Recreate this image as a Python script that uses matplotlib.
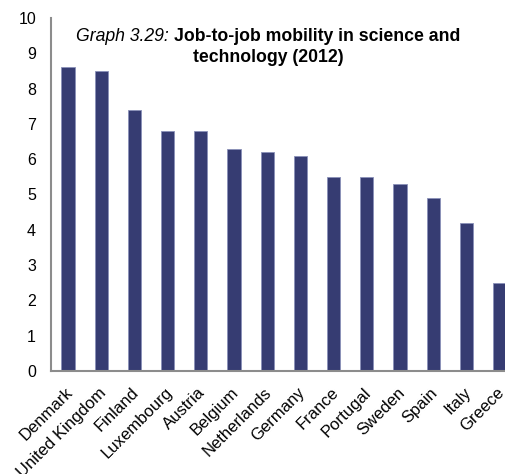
import matplotlib
matplotlib.use("Agg")
import matplotlib.pyplot as plt
import matplotlib.transforms as mtransforms

countries = ["Denmark", "United Kingdom", "Finland", "Luxembourg", "Austria", "Belgium",
             "Netherlands", "Germany", "France", "Portugal", "Sweden", "Spain", "Italy", "Greece"]
values = [8.6, 8.5, 7.4, 6.8, 6.8, 6.3, 6.2, 6.1, 5.5, 5.5, 5.3, 4.9, 4.2, 2.5]
yticks = [0, 1, 2, 3, 4, 5, 6, 7, 8, 9, 10]
title_prefix = "Graph 3.29:"
title_line1 = "Job-to-job mobility in science and"
title_line2 = "technology (2012)"

plt.rcParams['font.family'] = ['Liberation Sans', 'DejaVu Sans']

W, H = 505, 474
fig = plt.figure(figsize=(W / 100, H / 100), dpi=100)
ax = fig.add_axes([51.4 / W, 1 - 371 / H, 464.8 / W, (371 - 18) / H])

x = list(range(len(countries)))
ax.bar(x, values, width=0.4, color='#363C72', edgecolor='#8A90B8', linewidth=0.6)
ax.set_xlim(-0.5, len(countries) - 0.5)
ax.set_ylim(0, 10)
ax.set_yticks(yticks)
ax.set_yticklabels([str(t) for t in yticks], fontsize=11.5)
ax.set_xticks(x)
ax.set_xticklabels(countries, rotation=45, ha='right', rotation_mode='anchor', fontsize=12)
ax.tick_params(axis='y', length=0, pad=11)
ax.tick_params(axis='x', length=0, pad=10)
offset = mtransforms.ScaledTranslation(-3 / 100, 0, fig.dpi_scale_trans)
for lab in ax.get_xticklabels():
    lab.set_transform(lab.get_transform() + offset)

for s in ['top', 'right']:
    ax.spines[s].set_visible(False)
for s in ['left', 'bottom']:
    ax.spines[s].set_color('#8C8C8C')
    ax.spines[s].set_linewidth(1.5)

tfs = 12.7
cx = 268 / W
y1 = 1 - 41 / H
y2 = 1 - 61.5 / H
t_a = fig.text(0, y1, title_prefix + " ", style='italic', fontsize=tfs, ha='left', va='baseline')
t_b = fig.text(0, y1, title_line1, fontweight='bold', fontsize=tfs, ha='left', va='baseline')
fig.canvas.draw()
r = fig.canvas.get_renderer()
wa = t_a.get_window_extent(r).width / W
wb = t_b.get_window_extent(r).width / W
x0 = cx - (wa + wb) / 2
t_a.set_x(x0)
t_b.set_x(x0 + wa)
fig.text(cx, y2, title_line2, fontweight='bold', fontsize=tfs, ha='center', va='baseline')

fig.savefig("out.png", dpi=100)
